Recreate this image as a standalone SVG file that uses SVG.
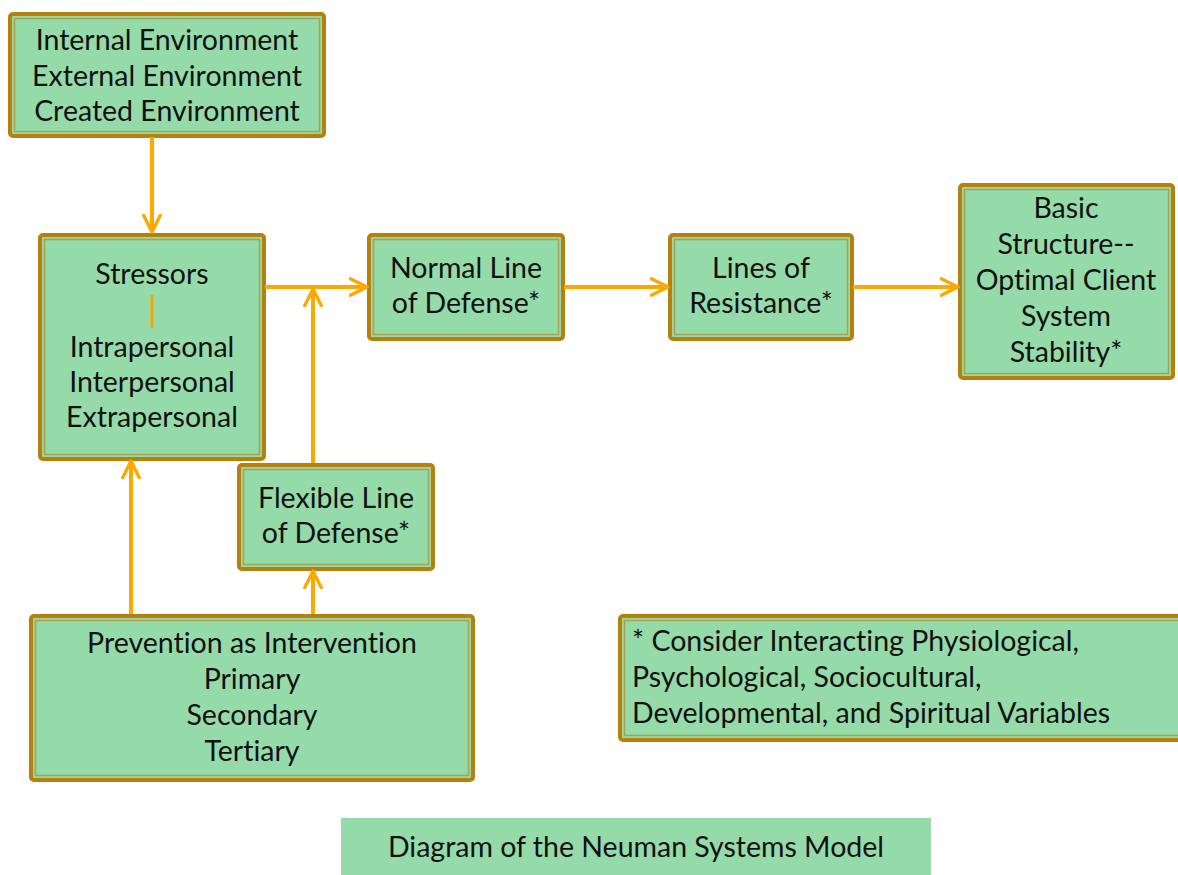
<svg xmlns="http://www.w3.org/2000/svg" width="1178" height="875" viewBox="0 0 1178 875">
<style>
.outer{fill:#95dba9;stroke:#b7800c;stroke-width:4}
.inner{fill:none;stroke:#aaa050;stroke-width:1.5}
.t,.tl{font-family:Lato,"Open Sans",sans-serif;font-size:28.5px;fill:#111;font-variant-ligatures:none}
.t{text-anchor:middle}
.tl{text-anchor:start}
.c{stroke:#fba800;stroke-width:4;fill:none}
</style>
<defs>
<marker id="ah" viewBox="0 0 12 12" refX="11" refY="6" markerWidth="5" markerHeight="5" orient="auto" markerUnits="strokeWidth">
<path d="M1,1 L11,6 L1,11" fill="none" stroke="#fba800" stroke-width="2" stroke-linecap="round" stroke-linejoin="round"/>
</marker>
</defs>
<rect width="1178" height="875" fill="#fff"/>
<g id="env">
<rect class="outer" x="10" y="14" width="314" height="122" rx="3"/>
<rect class="inner" x="14.5" y="18.5" width="305" height="113"/>
<text class="t" x="167" y="50">Internal Environment</text>
<text class="t" x="167" y="86">External Environment</text>
<text class="t" x="167" y="121">Created Environment</text>
</g>
<g id="stressors">
<rect class="outer" x="40" y="235" width="224" height="224" rx="3"/>
<rect class="inner" x="44.5" y="239.5" width="215" height="215"/>
<text class="t" x="152" y="284">Stressors</text>
<line x1="152" y1="295" x2="152" y2="328" stroke="#fba800" stroke-width="3"/>
<text class="t" x="152" y="357">Intrapersonal</text>
<text class="t" x="152" y="392">Interpersonal</text>
<text class="t" x="152" y="427">Extrapersonal</text>
</g>
<g id="normal">
<rect class="outer" x="369" y="235" width="194" height="104" rx="3"/>
<rect class="inner" x="373.5" y="239.5" width="185" height="95"/>
<text class="t" x="466" y="278">Normal Line</text>
<text class="t" x="466" y="313">of Defense*</text>
</g>
<g id="resistance">
<rect class="outer" x="670" y="235" width="182" height="104" rx="3"/>
<rect class="inner" x="674.5" y="239.5" width="173" height="95"/>
<text class="t" x="761" y="278">Lines of</text>
<text class="t" x="761" y="313">Resistance*</text>
</g>
<g id="basic">
<rect class="outer" x="960" y="185" width="213" height="193" rx="3"/>
<rect class="inner" x="964.5" y="189.5" width="204" height="184"/>
<text class="t" x="1066" y="218">Basic</text>
<text class="t" x="1066" y="254">Structure--</text>
<text class="t" x="1066" y="290">Optimal Client</text>
<text class="t" x="1066" y="326">System</text>
<text class="t" x="1066" y="362">Stability*</text>
</g>
<g id="flexible">
<rect class="outer" x="239" y="465" width="194" height="104" rx="3"/>
<rect class="inner" x="243.5" y="469.5" width="185" height="95"/>
<text class="t" x="336" y="508">Flexible Line</text>
<text class="t" x="336" y="543">of Defense*</text>
</g>
<g id="prevention">
<rect class="outer" x="31" y="616" width="442" height="164" rx="3"/>
<rect class="inner" x="35.5" y="620.5" width="433" height="155"/>
<text class="t" x="252" y="653">Prevention as Intervention</text>
<text class="t" x="252" y="689">Primary</text>
<text class="t" x="252" y="725">Secondary</text>
<text class="t" x="252" y="761">Tertiary</text>
</g>
<g id="note">
<rect class="outer" x="620" y="616" width="570" height="124" rx="3"/>
<rect class="inner" x="624.5" y="620.5" width="560" height="115"/>
<text class="tl" x="632" y="651">* Consider Interacting Physiological,</text>
<text class="tl" x="632" y="687">Psychological, Sociocultural,</text>
<text class="tl" x="632" y="723">Developmental, and Spiritual Variables</text>
</g>
<g id="caption">
<rect x="341" y="818" width="590" height="57" fill="#95dba9"/>
<text class="t" x="636" y="857">Diagram of the Neuman Systems Model</text>
</g>
<g id="connectors">
<line class="c" x1="152" y1="137" x2="152" y2="232" marker-end="url(#ah)"/>
<line class="c" x1="265" y1="287" x2="367" y2="287" marker-end="url(#ah)"/>
<line class="c" x1="313" y1="463" x2="313" y2="289" marker-end="url(#ah)"/>
<line class="c" x1="564" y1="287" x2="668" y2="287" marker-end="url(#ah)"/>
<line class="c" x1="853" y1="287" x2="958" y2="287" marker-end="url(#ah)"/>
<line class="c" x1="131" y1="614" x2="131" y2="461" marker-end="url(#ah)"/>
<line class="c" x1="313" y1="614" x2="313" y2="571" marker-end="url(#ah)"/>
</g>
</svg>
